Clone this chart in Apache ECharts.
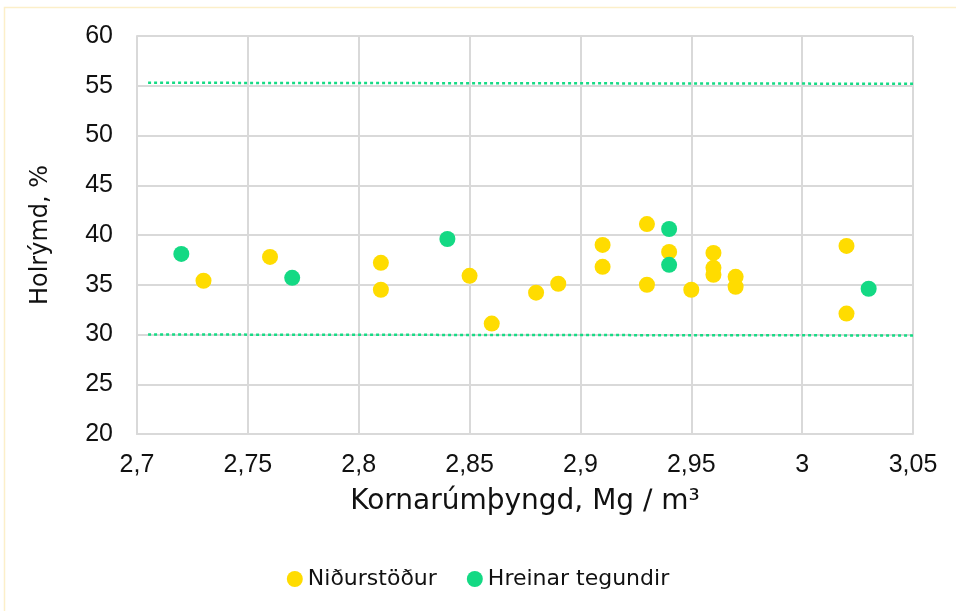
<!DOCTYPE html>
<html><head><meta charset="utf-8">
<script src="https://cdn.jsdelivr.net/npm/echarts@6/dist/echarts.min.js"></script>
<style>html,body{margin:0;padding:0;background:#fff}#c{width:956px;height:611px}</style>
</head><body><div id="c"></div>
<script>
const seriesNames = ['Niðurstöður', 'Hreinar tegundir'];
const resultsX = [2.73, 2.76, 2.81, 2.81, 2.85, 2.86, 2.88, 2.89, 2.91, 2.91, 2.93, 2.93, 2.94, 2.95, 2.96, 2.96, 2.96, 2.97, 2.97, 3.02, 3.02];
const resultsY = [35.4, 37.8, 37.2, 34.5, 35.9, 31.1, 34.2, 35.1, 39.0, 36.8, 41.1, 35.0, 38.3, 34.5, 38.2, 36.7, 36.0, 35.8, 34.8, 38.9, 32.1];
const pureX = [2.72, 2.77, 2.84, 2.94, 2.94, 3.03];
const pureY = [38.1, 35.7, 39.6, 40.6, 37.0, 34.6];
const upperLimitX = [2.705, 3.05];
const upperLimitY = [55.3, 55.2];
const lowerLimitX = [2.705, 3.05];
const lowerLimitY = [30.0, 29.9];
const xTicks = {min: 2.7, max: 3.05, interval: 0.05};
const yTicks = {min: 20, max: 60, interval: 5};
const xTitle = 'Kornarúmþyngd, Mg \u2215 m³';
const yTitle = 'Holrýmd, %';

const zip = (a, b) => a.map((v, i) => [v, b[i]]);
const fmt = v => String(Math.round(v * 100) / 100).replace('.', ',');
const TFONT = 'DejaVu Sans';
const NFONT = 'Liberation Sans';
const chart = echarts.init(document.getElementById('c'), null, {renderer: 'canvas'});
chart.setOption({
  animation: false,
  backgroundColor: '#fff',
  textStyle: {fontFamily: TFONT, color: '#000'},
  graphic: [{type: 'rect', shape: {x: 4.5, y: 7.5, width: 960, height: 620}, style: {fill: 'none', stroke: '#fcefc9', lineWidth: 1.5}, silent: true}],
  grid: {left: 137, right: 43, top: 36, bottom: 177},
  xAxis: {
    type: 'value', min: xTicks.min, max: xTicks.max, interval: xTicks.interval,
    name: xTitle, nameLocation: 'middle', nameGap: 54,
    nameTextStyle: {fontSize: 28, fontFamily: TFONT, color: '#111'},
    axisLine: {show: true, lineStyle: {color: '#d9d9d9', width: 2}},
    axisTick: {show: false},
    axisLabel: {fontSize: 25, color: '#111', margin: 19, formatter: fmt, fontFamily: NFONT},
    splitLine: {show: true, lineStyle: {color: '#d9d9d9', width: 2}}
  },
  yAxis: {
    type: 'value', min: yTicks.min, max: yTicks.max, interval: yTicks.interval,
    name: yTitle, nameLocation: 'middle', nameGap: 84, nameRotate: 90,
    nameTextStyle: {fontSize: 24, fontFamily: TFONT, color: '#111'},
    axisLine: {show: true, lineStyle: {color: '#d9d9d9', width: 2}},
    axisTick: {show: false},
    axisLabel: {fontSize: 25, color: '#111', margin: 24, fontFamily: NFONT},
    splitLine: {show: true, lineStyle: {color: '#d9d9d9', width: 2}}
  },
  legend: {
    top: 563, left: 'center', itemGap: 30, itemWidth: 16, itemHeight: 16,
    data: [{name: seriesNames[0], icon: 'circle'}, {name: seriesNames[1], icon: 'circle'}],
    textStyle: {fontSize: 22, color: '#111', fontFamily: TFONT}
  },
  series: [
    {type: 'line', data: zip(upperLimitX, upperLimitY), symbol: 'none', silent: true, z: 1,
     lineStyle: {color: '#16db85', width: 2.5, type: [3, 3]}},
    {type: 'line', data: zip(lowerLimitX, lowerLimitY), symbol: 'none', silent: true, z: 1,
     lineStyle: {color: '#16db85', width: 2.5, type: [3, 3]}},
    {name: seriesNames[0], type: 'scatter', data: zip(resultsX, resultsY), symbolSize: 16,
     itemStyle: {color: '#ffdc00', opacity: 1}, z: 3},
    {name: seriesNames[1], type: 'scatter', data: zip(pureX, pureY), symbolSize: 16,
     itemStyle: {color: '#14d984', opacity: 1}, z: 3}
  ]
});
</script></body></html>
